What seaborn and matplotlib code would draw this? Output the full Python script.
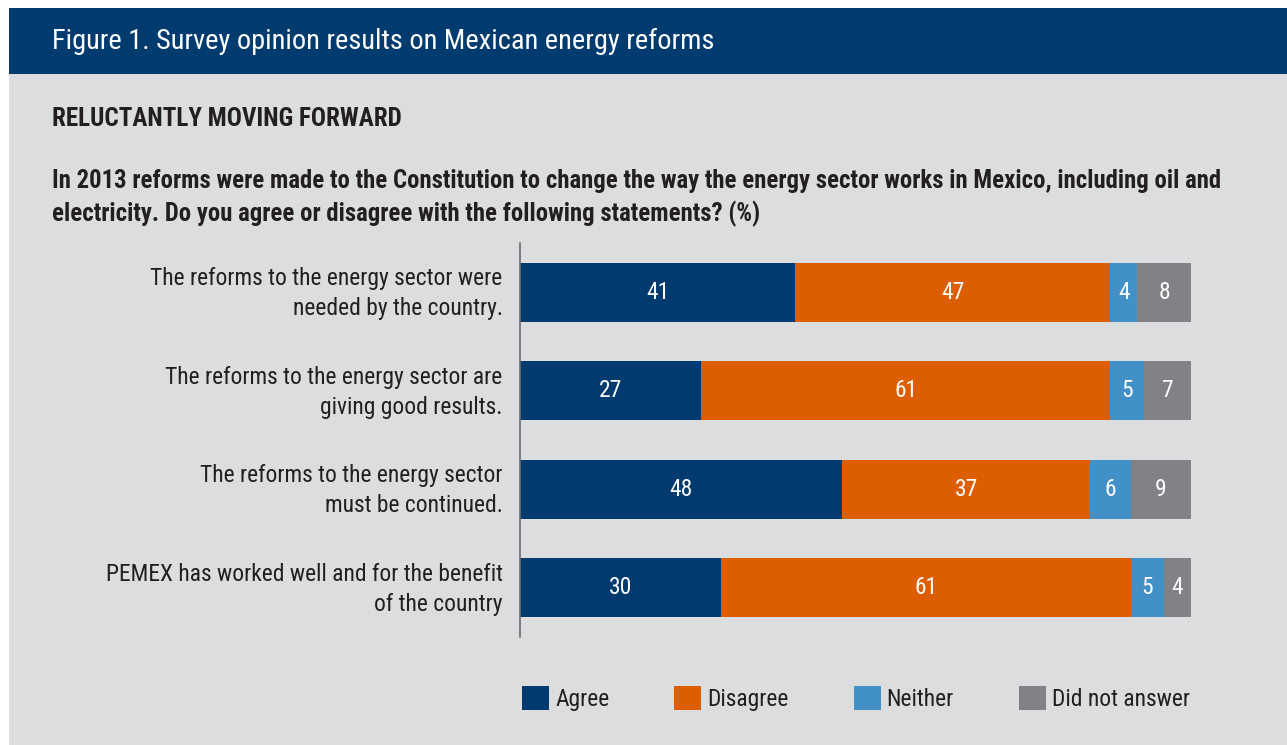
import matplotlib
matplotlib.use("Agg")
import matplotlib.pyplot as plt
import matplotlib.transforms as mtrans
from matplotlib.patches import Rectangle, Patch
from matplotlib import font_manager as fm
import seaborn as sns
import pandas as pd
import numpy as np

# ---- data ----
statements = [
    "The reforms to the energy sector were\nneeded by the country.",
    "The reforms to the energy sector are\ngiving good results.",
    "The reforms to the energy sector\nmust be continued.",
    "PEMEX has worked well and for the benefit\nof the country",
]
series_names = ["Agree", "Disagree", "Neither", "Did not answer"]
agree = [41, 27, 48, 30]
disagree = [47, 61, 37, 61]
neither = [4, 5, 6, 5]
no_answer = [8, 7, 9, 4]

title = "Figure 1. Survey opinion results on Mexican energy reforms"
subtitle = "RELUCTANTLY MOVING FORWARD"
question_lines = [
    "In 2013 reforms were made to the Constitution to change the way the energy sector works in Mexico, including oil and",
    "electricity. Do you agree or disagree with the following statements? (%)",
]

colors = ["#003a6e", "#dc5e00", "#4190c8", "#818285"]
BG = "#dcdddf"
HEADER = "#003b70"
TXT = "#231f20"

sns.set_style("white")
installed = {f.name for f in fm.fontManager.ttflist}
FONT = "Liberation Sans"
for cand in ["Liberation Sans Narrow", "Arial Narrow", "Roboto Condensed", "Open Sans Condensed"]:
    if cand in installed:
        FONT = cand
        break
FAM = [FONT, "DejaVu Sans"]
plt.rcParams["font.family"] = FAM

W, H = 1287, 745
fig = plt.figure(figsize=(W / 100, H / 100), dpi=100, facecolor="white")
renderer = fig.canvas.get_renderer()


def fit_size(s, target_px, weight="normal"):
    t = fig.text(0, 0, s, fontsize=20, fontweight=weight)
    w = t.get_window_extent(renderer).width
    t.remove()
    return 20 * target_px / w


title_fs = fit_size(title, 660)
sub_fs = fit_size(subtitle, 351, "bold")
q_fs = fit_size(question_lines[0], 1166, "bold")
lab_fs = fit_size("The reforms to the energy sector were", 352)
leg_fs = fit_size("Did not answer", 138)
val_fs = lab_fs

# backgrounds
fig.patches.append(Rectangle((9 / W, 0), 1 - 9 / W, 1 - 74 / H, transform=fig.transFigure,
                             facecolor=BG, edgecolor="none", zorder=-10))
fig.patches.append(Rectangle((9 / W, 1 - 74 / H), 1 - 9 / W, (74 - 8) / H, transform=fig.transFigure,
                             facecolor=HEADER, edgecolor="none", zorder=-10))

fig.text(52 / W, 1 - 41 / H, title, color="white", fontsize=title_fs, va="center", ha="left")
fig.text(52 / W, 1 - 119 / H, subtitle, color=TXT, fontsize=sub_fs, fontweight="bold", va="center", ha="left")
for yy, line in zip([181, 214], question_lines):
    fig.text(52 / W, 1 - yy / H, line, color=TXT, fontsize=q_fs, fontweight="bold", va="center", ha="left")

ax = fig.add_axes([520 / W, 1 - 637 / H, 671 / W, 394 / H])
ax.patch.set_visible(False)

df = pd.DataFrame({"statement": statements, "Agree": agree, "Disagree": disagree,
                   "Neither": neither, "Did not answer": no_answer})

left = np.zeros(len(statements))
for name, col in zip(series_names, colors):
    vals = df[name].to_numpy()
    sns.barplot(data=df, y="statement", x=name, orient="h", color=col, width=0.6,
                left=left, ax=ax, saturation=1, edgecolor="none", linewidth=0)
    cont = ax.containers[-1]
    ax.bar_label(cont, labels=[str(v) for v in vals], label_type="center",
                 color="white", fontsize=val_fs)
    left = left + vals

ax.set_xlim(0, 100)
ax.set_ylim(3.5, -0.5)
ax.set_xlabel("")
ax.set_ylabel("")
ax.set_xticks([])
ax.tick_params(axis="y", length=0, pad=12.5, labelsize=lab_fs, labelcolor=TXT)
off = mtrans.ScaledTranslation(0, 4.5 / 100, fig.dpi_scale_trans)
for tk in ax.yaxis.get_major_ticks():
    tk.label1.set_multialignment("right")
    tk.label1.set_linespacing(1.38)
    tk.label1.set_transform(tk.label1.get_transform() + off)
for s in ["top", "right", "bottom"]:
    ax.spines[s].set_visible(False)
ax.spines["left"].set_color("#6d6e71")
ax.spines["left"].set_linewidth(1.2)

leg_px = leg_fs * 100 / 72
handles = [Patch(facecolor=c, edgecolor="none", label=n) for n, c in zip(series_names, colors)]
leg = fig.legend(handles=handles, loc="center left", bbox_to_anchor=(522 / W, 1 - 698.5 / H),
                 ncol=4, frameon=False, fontsize=leg_fs, handlelength=27 / leg_px,
                 handleheight=27 / leg_px, handletextpad=6 / leg_px, columnspacing=65 / leg_px,
                 borderpad=0, borderaxespad=0, labelcolor=TXT)

fig.savefig("out.png", dpi=100, facecolor="white")
